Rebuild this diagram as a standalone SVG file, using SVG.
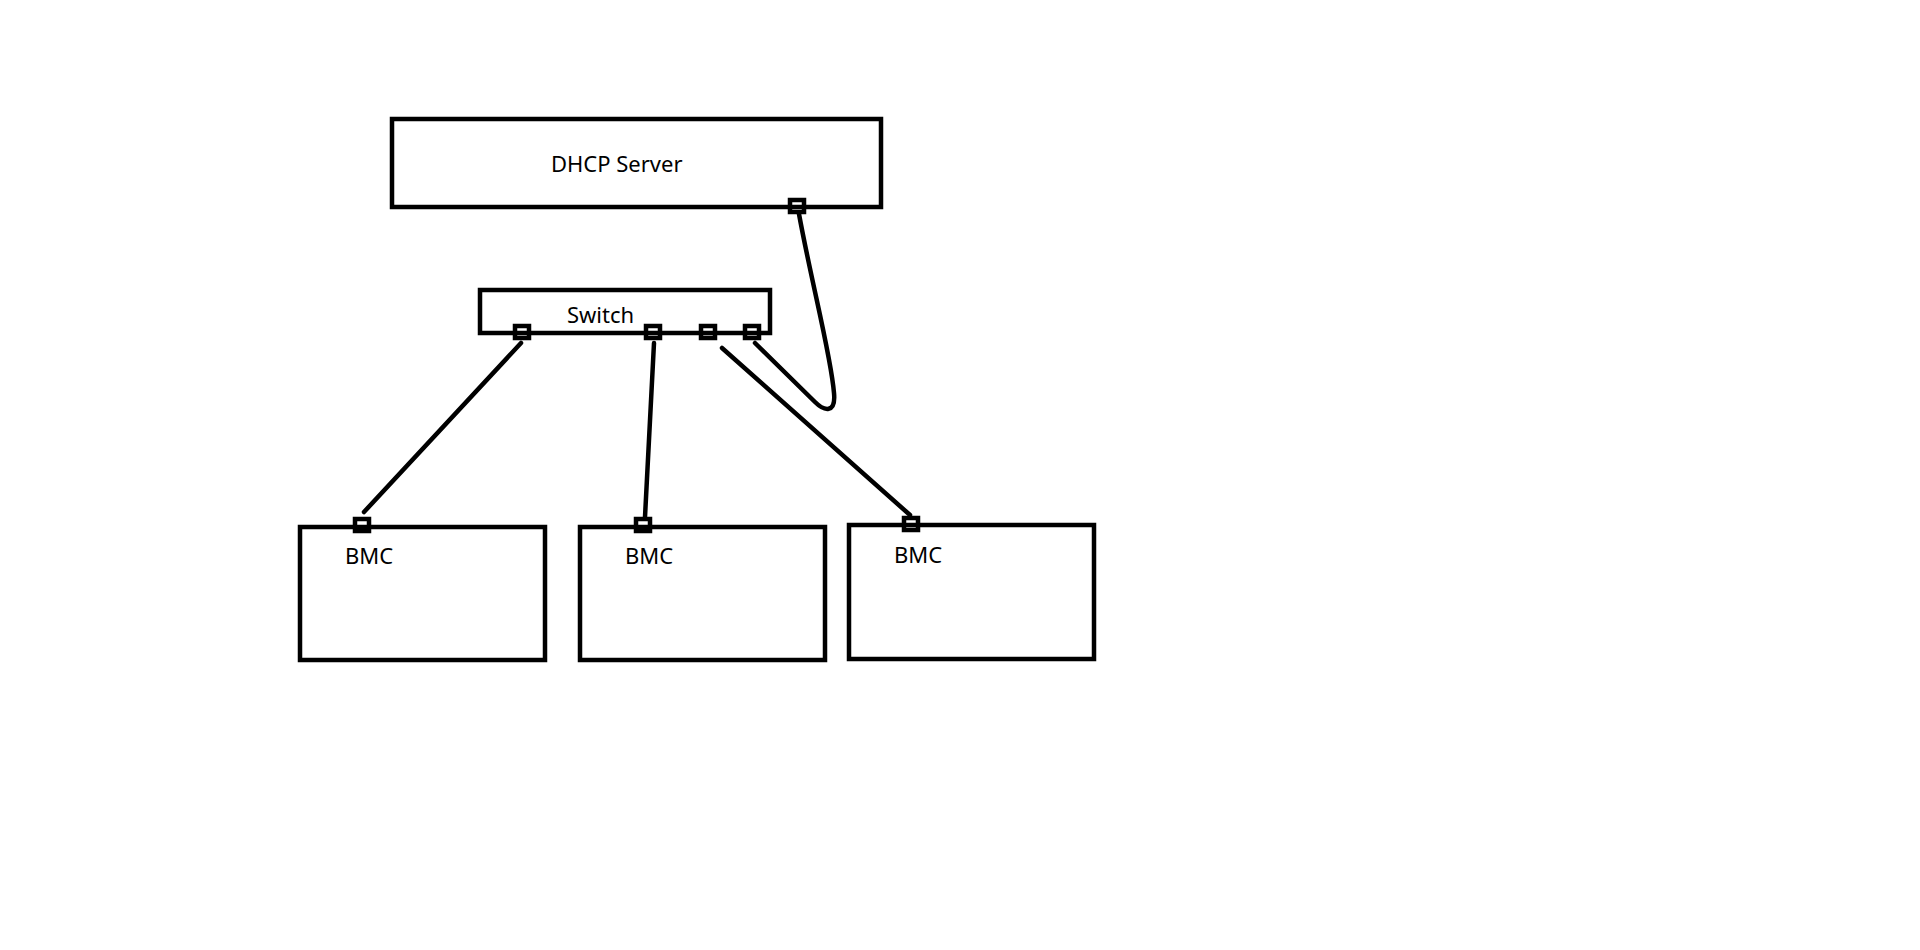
<svg xmlns="http://www.w3.org/2000/svg" width="1920" height="950" viewBox="0 0 1920 950">
<style>
.box{fill:none;stroke:#000;stroke-width:4.5}
.port{fill:none;stroke:#000;stroke-width:4.5}
.wire{fill:none;stroke:#000;stroke-width:4.5;stroke-linecap:round;stroke-linejoin:round}
.lbl{font-family:"Noto Sans","Open Sans","Liberation Sans",sans-serif;font-size:22px;fill:#000}
</style>
<rect width="1920" height="950" fill="#fff"/>
<g id="connectors">
<path class="wire" d="M 521 343 L 364 512"/>
<path class="wire" d="M 654 343 L 645 517"/>
<path class="wire" d="M 722 348 L 910 515"/>
<path class="wire" d="M 755 343 L 815 402 C 824 411 836 414 834 393 C 831 355 812 285 799 214"/>
</g>
<g id="dhcp-server">
<rect class="box" x="392" y="119" width="489" height="88"/>
<text class="lbl" x="551" y="172">DHCP Server</text>
<rect class="port" x="790" y="200" width="14" height="12"/>
</g>
<g id="switch">
<rect class="box" x="480" y="290" width="290" height="43"/>
<text class="lbl" x="567" y="323">Switch</text>
<rect class="port" x="515" y="326" width="14" height="12"/>
<rect class="port" x="646" y="326" width="14" height="12"/>
<rect class="port" x="701" y="326" width="14" height="12"/>
<rect class="port" x="745" y="326" width="14" height="12"/>
</g>
<g id="bmc1">
<rect class="box" x="300" y="527" width="245" height="133"/>
<text class="lbl" x="345" y="564">BMC</text>
<rect class="port" x="355" y="519" width="14" height="12"/>
</g>
<g id="bmc2">
<rect class="box" x="580" y="527" width="245" height="133"/>
<text class="lbl" x="625" y="564">BMC</text>
<rect class="port" x="636" y="519" width="14" height="12"/>
</g>
<g id="bmc3">
<rect class="box" x="849" y="525" width="245" height="134"/>
<text class="lbl" x="894" y="563">BMC</text>
<rect class="port" x="904" y="518" width="14" height="12"/>
</g>
</svg>
